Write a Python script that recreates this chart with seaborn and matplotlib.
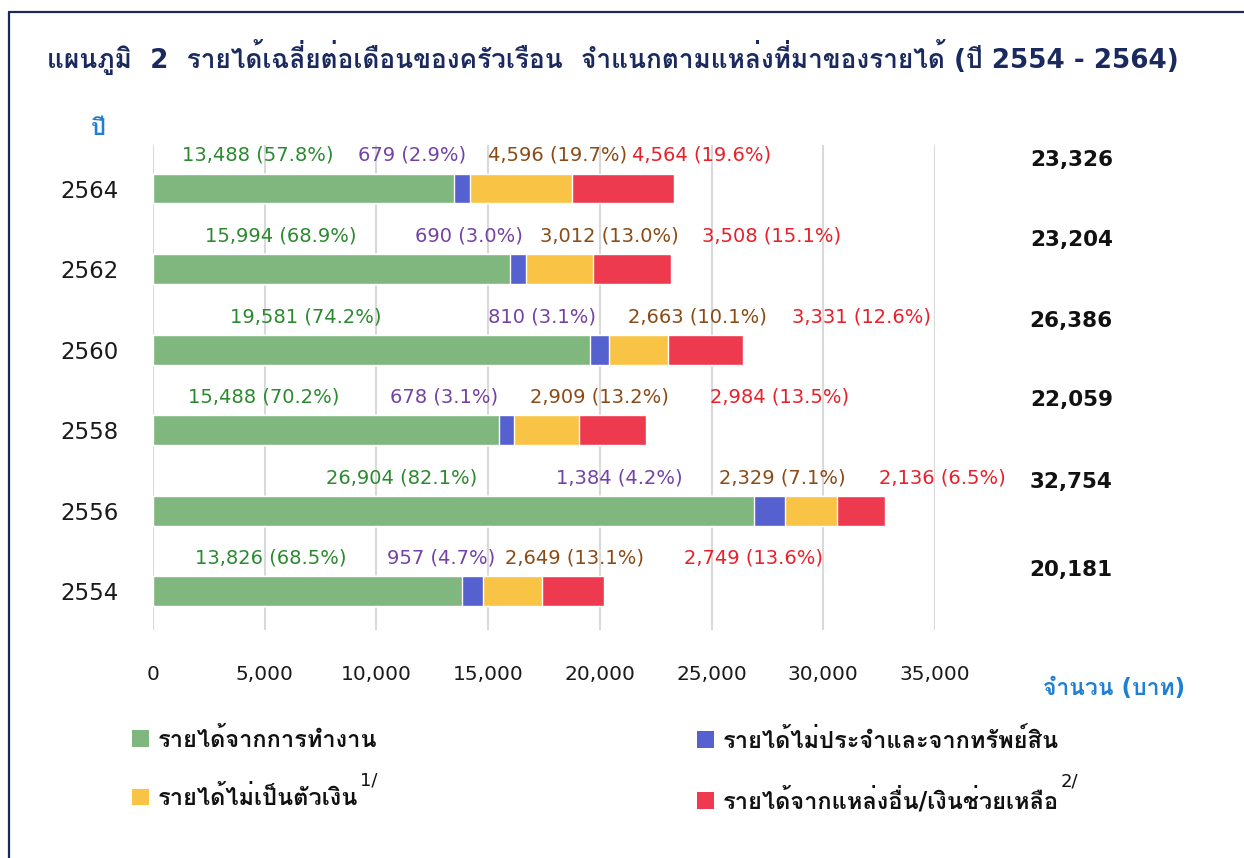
import numpy as np
import pandas as pd
import matplotlib as mpl
mpl.use('Agg')
import matplotlib.pyplot as plt
import seaborn as sns
from matplotlib import font_manager
from matplotlib.patches import Patch
from matplotlib.lines import Line2D

# data (baht per month)
years = ['2564', '2562', '2560', '2558', '2556', '2554']
work = [13488, 15994, 19581, 15488, 26904, 13826]
irregular = [679, 690, 810, 678, 1384, 957]
nonmoney = [4596, 3012, 2663, 2909, 2329, 2649]
other = [4564, 3508, 3331, 2984, 2136, 2749]
work_pct = [57.8, 68.9, 74.2, 70.2, 82.1, 68.5]
irregular_pct = [2.9, 3.0, 3.1, 3.1, 4.2, 4.7]
nonmoney_pct = [19.7, 13.0, 10.1, 13.2, 7.1, 13.1]
other_pct = [19.6, 15.1, 12.6, 13.5, 6.5, 13.6]
totals = [23326, 23204, 26386, 22059, 32754, 20181]

series_names = ['รายได้จากการทำงาน', 'รายได้ไม่ประจำและจากทรัพย์สิน',
                'รายได้ไม่เป็นตัวเงิน', 'รายได้จากแหล่งอื่น/เงินช่วยเหลือ']
title = 'แผนภูมิ  2  รายได้เฉลี่ยต่อเดือนของครัวเรือน  จำแนกตามแหล่งที่มาของรายได้ (ปี 2554 - 2564)'

# left edge of each value label, in data units (hand placed in the original)
label_x = [
    [1300, 9175, 14995, 21440],
    [2330, 11725, 17320, 24570],
    [3450, 14995, 21260, 28600],
    [1565, 10605, 16875, 24930],
    [7745, 18035, 25330, 32490],
    [1880, 10475, 15755, 23765],
]
# vertical offset of the total labels (category units above bar centre)
total_dy = [0.36, 0.36, 0.35, 0.37, 0.36, 0.26]

bar_colors = ['#7fb77e', '#5461cf', '#f9c345', '#ee3a4e']
text_colors = ['#2b8a2f', '#7442a6', '#8a4b16', '#e8202a']
navy = '#1b2a5e'
blue_txt = '#1f7fd0'


def find_thai_font():
    try:
        from fontTools.ttLib import TTFont
    except Exception:
        return None
    for f in font_manager.fontManager.ttflist:
        try:
            tt = TTFont(f.fname, fontNumber=0, lazy=True)
            cmap = tt.getBestCmap()
            if cmap and 0x0E01 in cmap and 0x0E33 in cmap:
                return f.name
        except Exception:
            continue
    return None


sns.set_theme(style='white')
thai = find_thai_font()
fams = ['DejaVu Sans']
if thai:
    fams.append(thai)
plt.rcParams['font.family'] = fams

df = pd.DataFrame({'year': years, 'work': work, 'irregular': irregular,
                   'nonmoney': nonmoney, 'other': other})
df['c1'] = df['work']
df['c2'] = df['c1'] + df['irregular']
df['c3'] = df['c2'] + df['nonmoney']
df['c4'] = df['c3'] + df['other']

fig = plt.figure(figsize=(12.44, 8.58), dpi=100)
ax = fig.add_axes([153 / 1244, 1 - 630 / 858, 782 / 1244, 485 / 858])

# stacked bars: draw cumulative sums from the longest down
for col, c in zip(['c4', 'c3', 'c2', 'c1'], bar_colors[::-1]):
    sns.barplot(data=df, x=col, y='year', order=years, orient='h', color=c,
                width=0.37, saturation=1, errorbar=None, ax=ax)

ax.set_xlim(0, 35000)
ax.set_ylim(5.48, -0.54)
ax.set_xticks(np.arange(0, 35001, 5000))
ax.set_xticklabels([f'{v:,}' for v in range(0, 35001, 5000)], fontsize=14.5, color='#1a1a1a')
ax.tick_params(axis='x', length=0, pad=25)
ax.tick_params(axis='y', length=0, pad=25, labelsize=16.5, labelcolor='#1a1a1a')
ax.set_xlabel('')
ax.set_ylabel('')
for s in ax.spines.values():
    s.set_visible(False)
ax.xaxis.grid(True, color='#d9d9d9', lw=1.5)
ax.set_axisbelow(True)

# value labels above each bar
vals = [work, irregular, nonmoney, other]
pcts = [work_pct, irregular_pct, nonmoney_pct, other_pct]
for i in range(len(years)):
    for k in range(4):
        ax.text(label_x[i][k], i - 0.41, f'{vals[k][i]:,} ({pcts[k][i]:.1f}%)',
                color=text_colors[k], fontsize=14, ha='left', va='center', clip_on=False)
    ax.text(41100, i - total_dy[i], f'{totals[i]:,}', fontsize=15.5, fontweight='bold',
            color='#111111', ha='center', va='center', clip_on=False)

fig.text(47 / 1244, 1 - 57 / 858, title, fontsize=18.9, fontweight='bold', color=navy,
         ha='left', va='center')
fig.text(98 / 1244, 1 - 128 / 858, 'ปี', fontsize=17, fontweight='bold', color=blue_txt,
         ha='center', va='center')
fig.text(1043 / 1244, 1 - 689 / 858, 'จำนวน (บาท)', fontsize=16.5, fontweight='bold',
         color=blue_txt, ha='left', va='center')

# legend: two columns
handles = [Patch(facecolor=c, edgecolor='none') for c in bar_colors]
leg_kw = dict(frameon=False, borderpad=0, borderaxespad=0, handlelength=0.7,
              handleheight=0.7, handletextpad=0.4, labelspacing=1.45, loc='upper left',
              prop={'size': 17, 'weight': 'bold'})
leg1 = fig.legend([handles[0], handles[2]], [series_names[0], series_names[2]],
                  bbox_to_anchor=(132 / 1244, 1 - 728 / 858), **leg_kw)
leg2 = fig.legend([handles[1], handles[3]], [series_names[1], series_names[3]],
                  bbox_to_anchor=(697 / 1244, 1 - 728 / 858), **leg_kw)
for leg in (leg1, leg2):
    for t in leg.get_texts():
        t.set_color('#111111')

# footnote marks after the legend texts
fig.canvas.draw()
inv = fig.transFigure.inverted()
for leg, mark in [(leg1, '1/'), (leg2, '2/')]:
    t = leg.get_texts()[1]
    bb = t.get_window_extent()
    x0, y0 = inv.transform((bb.x1, bb.y1 + 6))
    fig.text(x0 + 0.001, y0, mark, fontsize=13, color='#111111', ha='left', va='center')

# frame lines (top and left)
fig.add_artist(Line2D([9 / 1244, 1], [1 - 12 / 858, 1 - 12 / 858], color=navy, lw=1.6,
                      transform=fig.transFigure))
fig.add_artist(Line2D([9 / 1244, 9 / 1244], [0, 1 - 12 / 858], color=navy, lw=1.6,
                      transform=fig.transFigure))

fig.savefig('out.png', dpi=100)
